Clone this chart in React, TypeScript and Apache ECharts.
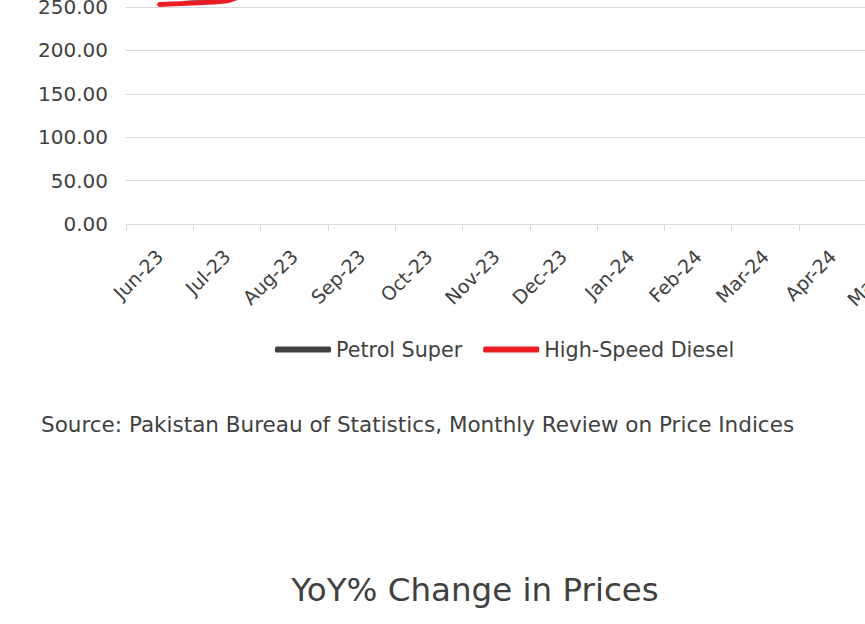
import React, { useEffect, useRef } from "react";
import * as echarts from "echarts";

const categories = ["Jun-23", "Jul-23", "Aug-23", "Sep-23", "Oct-23", "Nov-23", "Dec-23", "Jan-24", "Feb-24", "Mar-24", "Apr-24", "May-24"];
const petrolSuper = [262, 259, 282, 321, 300, 283, 272, 265, 273, 280, 290, 276];
const highSpeedDiesel = [253, 257, 286, 314, 310, 298, 286, 277, 284, 289, 293, 278];
const yMin = 0;
const yMax = 400;
const yInterval = 50;
const sourceText = "Source: Pakistan Bureau of Statistics, Monthly Review on Price Indices";
const nextChartTitle = "YoY% Change in Prices";

const OFFSET = 200;
const FONT = "DejaVu Sans";
const TEXT = "#404040";
const GRIDC = "#d9d9d9";

export default function App() {
  const ref = useRef<HTMLDivElement>(null);
  useEffect(() => {
    const chart = echarts.init(ref.current!, null, { renderer: "svg" });
    const pxPerUnit = 0.868;
    const gridHeight = (yMax - yMin) * pxPerUnit;
    chart.setOption({
      animation: false,
      grid: { left: 126, top: 224 + OFFSET - gridHeight, width: 67.3 * categories.length, height: gridHeight, containLabel: false },
      legend: {
        left: 275,
        top: 349 + OFFSET - 10,
        padding: 0,
        itemWidth: 56,
        itemHeight: 6,
        itemGap: 21,
        textStyle: { fontFamily: FONT, fontSize: 20.7, color: TEXT },
        data: [
          { name: "Petrol Super", icon: "roundRect" },
          { name: "High-Speed Diesel", icon: "roundRect" },
        ],
      },
      xAxis: {
        type: "category",
        data: categories,
        boundaryGap: true,
        axisLine: { show: true, lineStyle: { color: GRIDC, width: 1 } },
        axisTick: { show: true, length: 7, lineStyle: { color: GRIDC } },
        axisLabel: { rotate: 45, fontFamily: FONT, fontSize: 19, color: TEXT, margin: 29, interval: 0 },
      },
      yAxis: {
        type: "value",
        min: yMin,
        max: yMax,
        interval: yInterval,
        axisLine: { show: false },
        axisTick: { show: false },
        axisLabel: { fontFamily: FONT, fontSize: 20, color: TEXT, margin: 18, formatter: (v: number) => v.toFixed(2) },
        splitLine: { show: true, lineStyle: { color: GRIDC, width: 1 } },
      },
      series: [
        {
          name: "Petrol Super",
          type: "line",
          data: petrolSuper,
          smooth: 0.1,
          showSymbol: false,
          symbol: "none",
          color: "#404040",
          lineStyle: { width: 5, cap: "round", join: "round", color: "#404040" },
        },
        {
          name: "High-Speed Diesel",
          type: "line",
          data: highSpeedDiesel,
          smooth: 0.1,
          showSymbol: false,
          symbol: "none",
          color: "#ed1c24",
          lineStyle: { width: 5, cap: "round", join: "round", color: "#ed1c24" },
        },
      ],
      graphic: [
        {
          type: "text",
          x: 41,
          y: 424 + OFFSET,
          style: { text: sourceText, fontFamily: FONT, fontSize: 21.5, fill: TEXT, verticalAlign: "middle" },
        },
        {
          type: "text",
          x: 475,
          y: 590 + OFFSET,
          style: { text: nextChartTitle, fontFamily: FONT, fontSize: 32.5, fill: TEXT, align: "center", verticalAlign: "middle" },
        },
      ],
    });
    return () => chart.dispose();
  }, []);
  return (
    <div style={{ position: "fixed", left: 0, top: 0, width: 865, height: 624, overflow: "hidden", background: "#fff" }}>
      <div ref={ref} style={{ position: "absolute", left: 0, top: -OFFSET, width: 1000, height: 900 }} />
    </div>
  );
}
